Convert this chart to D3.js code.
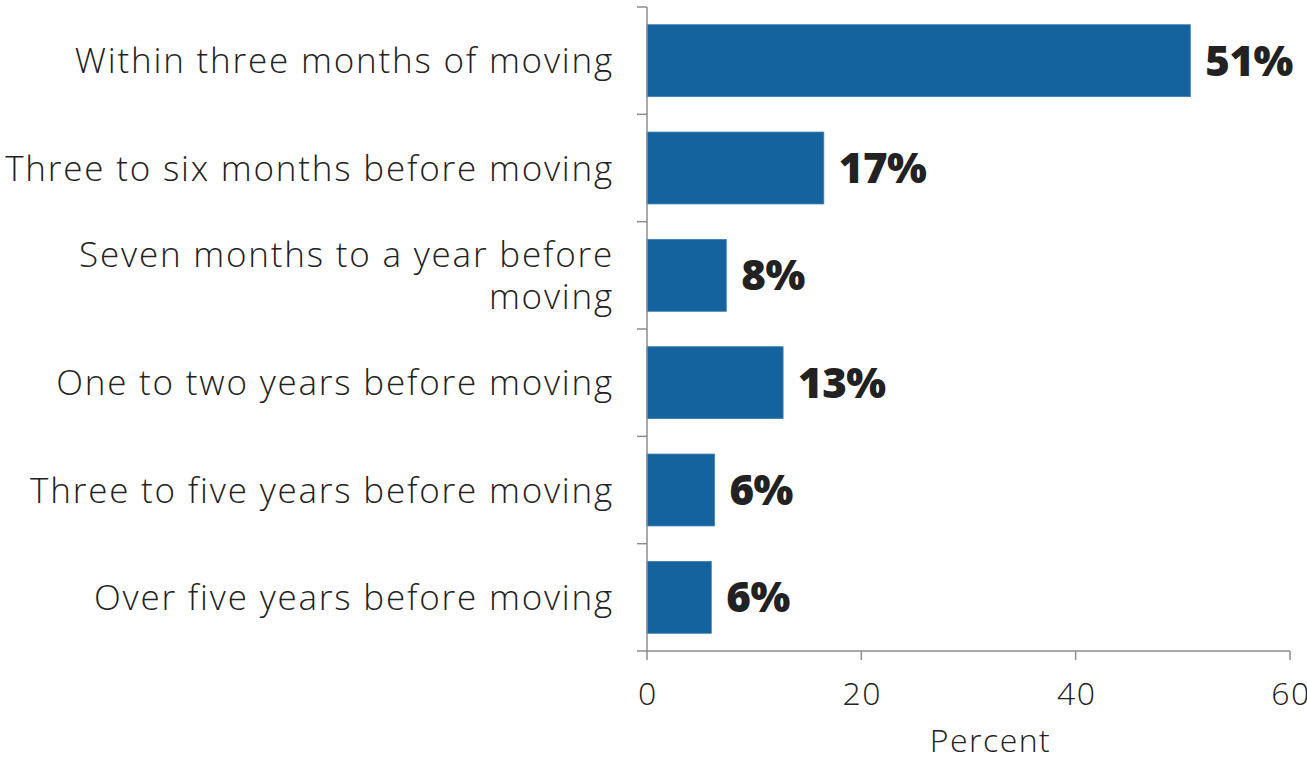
<!DOCTYPE html>
<html>
<head>
<meta charset="utf-8">
<script src="https://cdn.jsdelivr.net/npm/d3@7"></script>
<style>
  body { margin: 0; background: #fff; }
  svg text { font-family: "Open Sans", "DejaVu Sans", sans-serif; }
</style>
</head>
<body>
<svg id="chart" width="1307" height="757"></svg>
<script>
var categories = [
    "Within three months of moving",
    "Three to six months before moving",
    "Seven months to a year before moving",
    "One to two years before moving",
    "Three to five years before moving",
    "Over five years before moving"
];
var values = [50.7, 16.5, 7.4, 12.7, 6.3, 6.0];
var valueLabels = ["51%", "17%", "8%", "13%", "6%", "6%"];
var xTicks = [0, 20, 40, 60];
var xTitle = "Percent";

var svg = d3.select("#chart");

var x = d3.scaleLinear().domain([0, 60]).range([647, 1290]);
var y = d3.scaleBand()
    .domain(categories)
    .range([7, 651])
    .paddingInner(0.33)
    .paddingOuter(0.165);

var axisColor = "#8c8c8c";

// bars
svg.selectAll("rect.bar")
    .data(values)
    .enter()
    .append("rect")
    .attr("class", "bar")
    .attr("x", x(0))
    .attr("y", function (d, i) { return y(categories[i]); })
    .attr("width", function (d) { return x(d) - x(0); })
    .attr("height", y.bandwidth())
    .attr("fill", "#15639e")
    .attr("stroke", "#3d7fb3")
    .attr("stroke-width", 0.8);

// value labels
svg.selectAll("text.val")
    .data(values)
    .enter()
    .append("text")
    .attr("class", "val")
    .attr("x", function (d) { return x(d) + 15; })
    .attr("y", function (d, i) { return y(categories[i]) + y.bandwidth() / 2; })
    .attr("dy", "0.36em")
    .attr("font-size", 42)
    .attr("font-weight", 800)
    .attr("letter-spacing", -0.5)
    .attr("fill", "#222")
    .text(function (d, i) { return valueLabels[i]; });

// y axis line + ticks at band boundaries
var step = y.step();
var y0 = y.range()[0];
svg.append("line")
    .attr("x1", x(0)).attr("x2", x(0))
    .attr("y1", y0).attr("y2", 651)
    .attr("stroke", axisColor).attr("stroke-width", 1.5);
for (var k = 0; k < categories.length; k++) {
    svg.append("line")
        .attr("x1", x(0) - 10).attr("x2", x(0))
        .attr("y1", y0 + k * step).attr("y2", y0 + k * step)
        .attr("stroke", axisColor).attr("stroke-width", 1.5);
}

// x axis
var xAxis = svg.append("g").attr("transform", "translate(0,651)");
xAxis.append("line")
    .attr("x1", x(0) - 10).attr("x2", x(60))
    .attr("stroke", axisColor).attr("stroke-width", 1.5);
xAxis.selectAll("line.tick")
    .data(xTicks)
    .enter()
    .append("line")
    .attr("class", "tick")
    .attr("x1", function (d) { return x(d); })
    .attr("x2", function (d) { return x(d); })
    .attr("y1", 0).attr("y2", 9)
    .attr("stroke", axisColor).attr("stroke-width", 1.5);
xAxis.selectAll("text")
    .data(xTicks)
    .enter()
    .append("text")
    .attr("x", function (d) { return x(d) + 1; })
    .attr("y", 42)
    .attr("dy", "0.36em")
    .attr("text-anchor", "middle")
    .attr("font-size", 32)
    .attr("font-weight", 300)
    .attr("letter-spacing", 1.5)
    .attr("fill", "#222")
    .text(function (d) { return d; });

svg.append("text")
    .attr("x", x(30) + 22)
    .attr("y", 740)
    .attr("dy", "0.36em")
    .attr("text-anchor", "middle")
    .attr("font-size", 32)
    .attr("font-weight", 300)
    .attr("letter-spacing", 1.5)
    .attr("fill", "#222")
    .text(xTitle);

// category labels, wrapped
var maxW = 620;
categories.forEach(function (c, i) {
    var cy = y(c) + y.bandwidth() / 2;
    var t = svg.append("text")
        .attr("x", 614)
        .attr("text-anchor", "end")
        .attr("font-size", 35)
        .attr("font-weight", 300)
        .attr("letter-spacing", 1.8)
        .attr("fill", "#222");
    var words = c.split(" ");
    var lines = [];
    var line = [];
    var probe = t.append("tspan");
    words.forEach(function (w) {
        line.push(w);
        probe.text(line.join(" "));
        if (probe.node().getComputedTextLength() > maxW && line.length > 1) {
            line.pop();
            lines.push(line.join(" "));
            line = [w];
        }
    });
    lines.push(line.join(" "));
    probe.remove();
    var lh = 42;
    lines.forEach(function (l, j) {
        t.append("tspan")
            .attr("x", 614)
            .attr("y", cy + (j - (lines.length - 1) / 2) * lh)
            .attr("dy", "0.36em")
            .text(l);
    });
});
</script>
</body>
</html>
